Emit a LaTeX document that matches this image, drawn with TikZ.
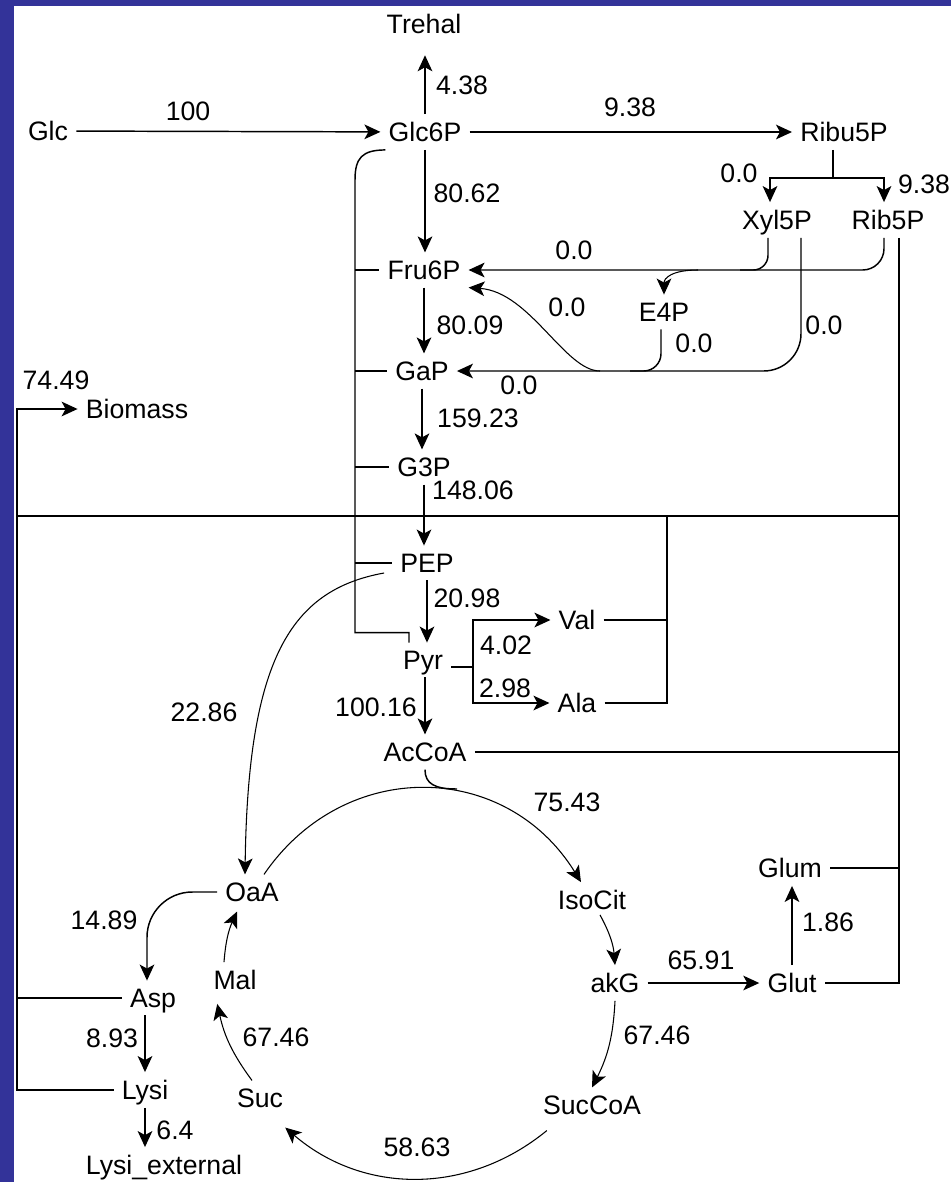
\documentclass[tikz,border=0pt]{standalone}
\usepackage{fontspec}
\setmainfont{Liberation Sans}
\usetikzlibrary{arrows.meta, calc}
\definecolor{frameblue}{RGB}{51,51,153}

\begin{document}
\begin{tikzpicture}[x=0.75pt, y=-0.75pt,
  met/.style={inner sep=6pt, text depth=0pt, font=\fontsize{20}{24}\selectfont},
  num/.style={inner sep=1pt, font=\fontsize{20}{24}\selectfont},
  flow/.style={-{Stealth[length=12pt,width=11pt,inset=3pt]}, line width=1.1pt},
  cyc/.style={flow, line width=0.8pt},
  link/.style={line width=1.1pt}]
\useasboundingbox (0,0) rectangle (951,1182);
\fill[frameblue] (0,0) rectangle (951,6);
\fill[frameblue] (0,0) rectangle (14,1182);

% metabolites
\node[met] (trehal) at (424,24) {Trehal};
\node[met] (glc) at (48,131) {Glc};
\node[met] (glcsix) at (425,132) {Glc6P};
\node[met] (ribu) at (844,132) {Ribu5P};
\node[met] (xyl) at (777,220) {Xyl5P};
\node[met] (rib) at (888,220) {Rib5P};
\node[met] (fru) at (424,270) {Fru6P};
\node[met] (efour) at (664,312) {E4P};
\node[met] (gap) at (422,371) {GaP};
\node[met] (biomass) at (137,409) {Biomass};
\node[met] (gthree) at (424,467) {G3P};
\node[met] (pep) at (427,563) {PEP};
\node[met] (val) at (577,620) {Val};
\node[met] (pyr) at (423,660) {Pyr};
\node[met] (ala) at (577,703) {Ala};
\node[met] (accoa) at (425,752) {AcCoA};
\node[met] (glum) at (790,868) {Glum};
\node[met] (oaa) at (252,892) {OaA};
\node[met] (isocit) at (592,900) {IsoCit};
\node[met] (mal) at (235,980) {Mal};
\node[met] (akg) at (615,983) {akG};
\node[met] (glut) at (792,983) {Glut};
\node[met] (asp) at (153,998) {Asp};
\node[met] (lysi) at (145,1090) {Lysi};
\node[met] (suc) at (260,1098) {Suc};
\node[met] (succoa) at (592,1105) {SucCoA};
\node[met] (lysiext) at (164,1165) {Lysi\_external};

% fluxes
\node[num] (fTre) at (462,85) {4.38};
\node[num] (fGlc) at (188,111) {100};
\node[num] (fPpp) at (630,107) {9.38};
\node[num] (fXyl) at (739,173) {0.0};
\node[num] (fRib) at (924,184) {9.38};
\node[num] (fHk) at (467,193) {80.62};
\node[num] (fTkA) at (574,250) {0.0};
\node[num] (fTaB) at (567,307) {0.0};
\node[num] (fPfk) at (470,325) {80.09};
\node[num] (fTaC) at (694,343) {0.0};
\node[num] (fTkB) at (824,325) {0.0};
\node[num] (fTkC) at (519,385) {0.0};
\node[num] (fBio) at (56,380) {74.49};
\node[num] (fAld) at (478,418) {159.23};
\node[num] (fGap) at (473,490) {148.06};
\node[num] (fPyk) at (467,598) {20.98};
\node[num] (fVal) at (506,645) {4.02};
\node[num] (fAla) at (505,688) {2.98};
\node[num] (fPpc) at (204,712) {22.86};
\node[num] (fPdh) at (376,707) {100.16};
\node[num] (fCs) at (567,802) {75.43};
\node[num] (fAsp) at (104,920) {14.89};
\node[num] (fGlum) at (828,922) {1.86};
\node[num] (fGdh) at (701,960) {65.91};
\node[num] (fSdh) at (276,1037) {67.46};
\node[num] (fKdh) at (657,1035) {67.46};
\node[num] (fLys) at (112,1038) {8.93};
\node[num] (fExp) at (175,1130) {6.4};
\node[num] (fSuc) at (417,1147) {58.63};

% junction points
\coordinate (rsplit) at (833,178);
\coordinate (rspine) at ($(rib.south)+(11,0)$);
\coordinate (fjoin) at (740,270);
\coordinate (ejoin) at (698,270);
\coordinate (gjoin) at (630,371);
\coordinate (cjoin) at (600,371);
\coordinate (lbar) at (355,180);
\coordinate (lspine) at (17,409);
\coordinate (hbar) at (17,516);
\coordinate (vbar) at (667,516);
\coordinate (pbr) at (473,667);
\coordinate (tcajoin) at (457,789);

% glycolysis
\draw[flow] (glc) -- (glcsix);
\draw[flow, shorten >=10pt] (glcsix.north) -- (glcsix.north |- trehal.south);
\draw[flow] (glcsix) -- (ribu);
\draw[flow] (glcsix.south) -- (glcsix.south |- fru.north);
\draw[flow] (fru.south) -- (fru.south |- gap.north);
\draw[flow] (gap.south) -- (gap.south |- gthree.north);
\draw[flow] (gthree.south) -- (gthree.south |- pep.north);
\draw[flow] (pep.south) -- (pep.south |- pyr.north);
\draw[flow] (pyr.south -| accoa) -- (accoa.north);

% pentose phosphate
\draw[link] (ribu.south -| rsplit) -- (rsplit);
\draw[flow] (rsplit) -| ($(xyl.north)+(-7,0)$);
\draw[flow] (rsplit) -| ($(rib.north)+(-4,0)$);
\draw[flow, rounded corners=16pt] ($(rib.south)+(-4,0)$) |- (fru.east);
\draw[link, rounded corners=11pt] ($(xyl.south)+(-9,0)$) |- (fjoin);
\draw[flow, rounded corners=28pt] ($(xyl.south)+(24,0)$) |- (gap.east);
\draw[link, rounded corners=13pt] ($(efour.south)+(-3,0)$) |- (gjoin);
\draw[cyc] (ejoin) .. controls (672,270) and (664,278) .. (efour.north);
\draw[cyc] (cjoin) .. controls (565,371) and (530,292) .. (fru.south east);

% biomass drains
\draw[link] ($(glcsix.south west)+(5,0)$) .. controls (362,150) and (355,158) .. (lbar)
  |- ($(pyr.north)+(-14,-10)$) -- ($(pyr.north)+(-14,0)$);
\foreach \m in {fru,gap,gthree,pep}
  \draw[link] (\m.west -| lbar) -- (\m.west);
\draw[link] ($(rib.south)+(11,0)$) |- (glut.east);
\draw[link] (glum.east) -- (glum.east -| rspine);
\draw[link] (accoa.east) -- (accoa.east -| rspine);
\draw[link] (hbar) -- (hbar -| rspine);
\draw[link] (val.east) -- (val.east -| vbar);
\draw[link] (ala.east) -| (vbar);
\draw[flow] (lysi.west) -| (lspine) -- (biomass.west);
\draw[link] (asp.west) -- (asp.west -| lspine);

% amino acids
\draw[link] ($(pyr.east)+(0,7)$) -- (pbr);
\draw[flow] (pbr) |- (val.west);
\draw[flow] (pbr) |- (ala.west);
\draw[flow] (glut.north) -- (glut.north |- glum.south);
\draw[flow] (akg) -- (glut);
\draw[flow, rounded corners=34pt] (oaa.west) -| ($(asp.north)+(-6,0)$);
\draw[flow] (asp.south -| lysi) -- (lysi.north);
\draw[flow] (lysi.south) -- (lysi.south |- lysiext.north);

% TCA cycle
\draw[cyc] ($(pep.west)+(-8,10)$) .. controls (290,590) and (248,660) .. ($(oaa.north)+(-7,0)$);
\draw[link] (accoa.south) .. controls (425,784) and (435,789) .. (tcajoin);
\draw[cyc] (oaa) to[bend left=57, looseness=1.15] (isocit);
\draw[cyc] ($(isocit.south)+(8,-3)$) to[bend left=12] (akg.north);
\draw[cyc] (akg.south) to[bend left=12] (succoa.north);
\draw[cyc] ($(succoa.south west)+(12,8)$) to[bend left=40] ($(suc.south east)+(-6,12)$);
\draw[cyc] ($(suc.north)+(-8,0)$) to[bend left=12] ($(mal.south west)+(12,6)$);
\draw[cyc] ($(mal.north)+(-11,0)$) to[bend left=10] ($(oaa.south)+(-15,2)$);

\end{tikzpicture}
\end{document}
